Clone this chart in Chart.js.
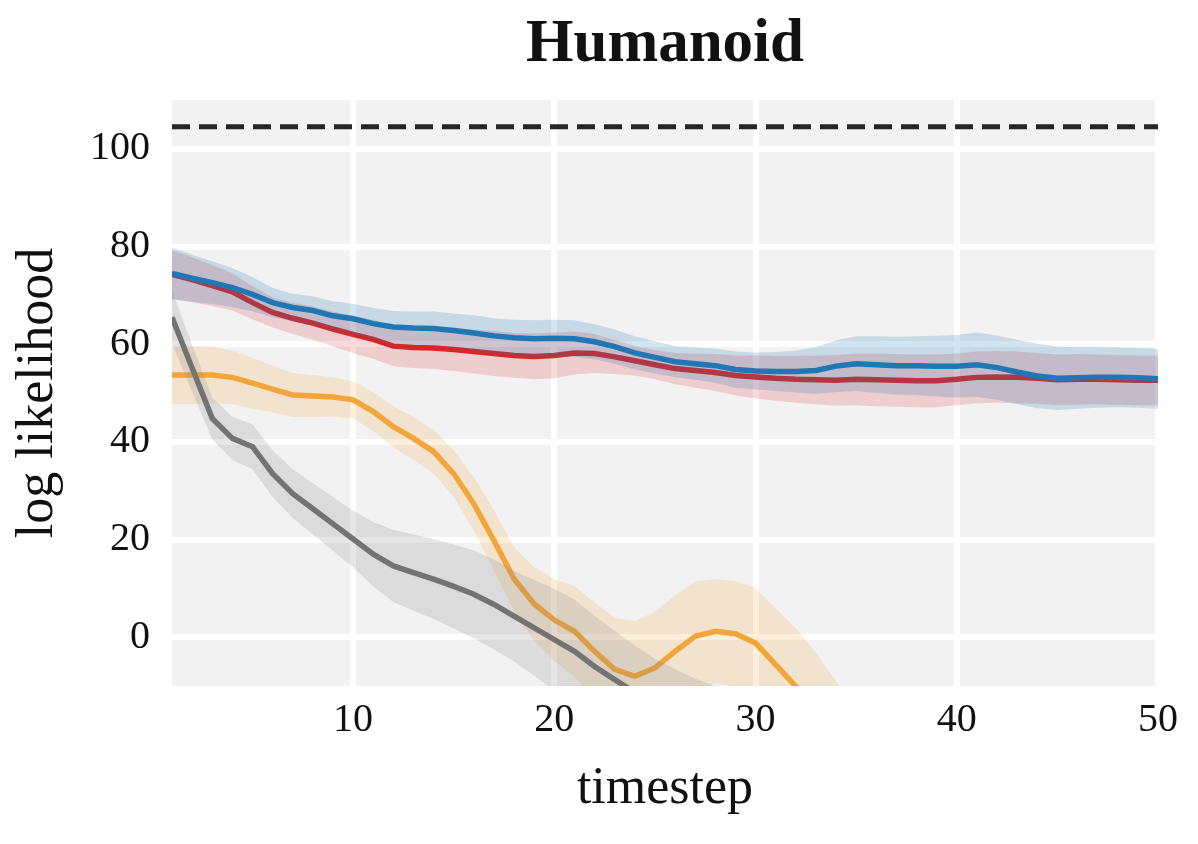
<!DOCTYPE html>
<html>
<head>
<meta charset="utf-8">
<script src="https://cdn.jsdelivr.net/npm/chart.js@4.4.1/dist/chart.umd.min.js"></script>
<style>
  html, body { margin: 0; padding: 0; background: #fff; }
  #wrap { width: 1198px; height: 844px; position: relative; }
</style>
</head>
<body>
<div id="wrap"><canvas id="humanoidChart"></canvas></div>
<script>
const timesteps = [1,2,3,4,5,6,7,8,9,10,11,12,13,14,15,16,17,18,19,20,21,22,23,24,25,
  26,27,28,29,30,31,32,33,34,35,36,37,38,39,40,41,42,43,44,45,46,47,48,49,50];
const xTicks = [10, 20, 30, 40, 50];
const yTicks = [0, 20, 40, 60, 80, 100];
const refLevel = 104.5; // dashed line

const blueMean = [74.5,73.5,72.6,71.6,70.2,68.5,67.5,66.9,65.8,65.2,
  64.2,63.5,63.3,63.2,62.8,62.3,61.7,61.3,61.1,61.2,
  61.1,60.5,59.5,58.2,57.3,56.4,56.0,55.6,54.8,54.5,
  54.4,54.4,54.6,55.5,56.0,55.8,55.6,55.6,55.5,55.5,
  55.8,55.2,54.3,53.5,53.0,53.1,53.2,53.2,53.1,52.9];
const blueStd = [5.3,4.8,4.4,4.0,3.5,3.0,2.8,2.9,3.0,3.1,
  3.2,3.3,3.4,3.5,3.5,3.6,3.6,3.7,3.8,3.8,
  3.8,3.6,3.5,3.4,3.3,3.2,3.3,3.5,3.7,3.8,
  4.0,4.3,4.8,5.3,5.6,5.8,5.9,6.0,6.2,6.4,
  6.6,6.6,6.6,6.6,6.5,6.3,6.2,6.1,6.1,6.1];

const redMean = [74.3,73.2,72.0,70.7,68.5,66.5,65.3,64.3,63.1,62.0,
  61.0,59.6,59.3,59.2,58.9,58.5,58.1,57.7,57.5,57.7,
  58.2,58.1,57.4,56.6,55.8,55.0,54.6,54.2,53.6,53.3,
  53.0,52.8,52.7,52.6,52.8,52.7,52.6,52.5,52.5,52.8,
  53.2,53.3,53.2,53.0,52.7,52.8,52.8,52.7,52.6,52.6];
const redStd = [5.0,4.6,4.2,3.8,3.4,3.1,3.2,3.4,3.6,3.8,
  4.0,4.1,4.2,4.3,4.4,4.5,4.6,4.6,4.7,4.7,
  4.4,4.0,3.5,3.0,3.0,3.2,3.5,3.8,4.1,4.4,
  4.6,4.8,5.0,5.2,5.3,5.4,5.4,5.4,5.4,5.3,
  5.3,5.3,5.3,5.2,5.2,5.2,5.1,5.1,5.1,5.1];

const orangeMean = [53.7,53.7,53.7,53.2,52.0,50.8,49.6,49.4,49.2,48.6,
  46.2,43.1,40.7,38.0,33.5,27.3,19.8,11.9,6.8,3.5,
  1.2,-2.9,-6.6,-8.0,-6.3,-2.9,0.2,1.2,0.7,-1.2,
  -5.6,-10.1,-15.0,-20.0,-24.0,null,null,null,null,null,
  null,null,null,null,null,null,null,null,null,null];
const orangeStd = [6.0,6.0,5.8,5.5,5.2,4.8,4.5,4.3,4.0,3.8,
  4.0,4.2,4.4,4.5,4.8,5.5,6.2,6.6,7.5,8.4,
  9.3,10.0,10.6,11.3,11.5,11.5,11.2,10.7,10.8,11.2,
  11.5,12.0,11.8,11.0,10.0,null,null,null,null,null,
  null,null,null,null,null,null,null,null,null,null];

const grayMean = [65.5,55.1,44.8,40.7,39.0,33.5,29.4,26.3,23.2,20.1,
  17.0,14.6,13.2,11.9,10.4,8.8,6.7,4.3,1.9,-0.5,
  -2.9,-6.0,-8.7,-11.3,-14.0,-16.5,-19.0,-21.0,-23.0,-25.0,
  null,null,null,null,null,null,null,null,null,null,
  null,null,null,null,null,null,null,null,null,null];
const grayStd = [5.5,4.8,4.3,4.4,4.6,4.8,5.0,5.2,5.5,5.8,
  6.6,7.4,7.8,8.2,8.6,9.0,9.2,9.3,9.8,10.4,
  10.6,10.4,10.0,9.6,9.6,10.0,10.5,11.0,11.0,11.0,
  null,null,null,null,null,null,null,null,null,null,
  null,null,null,null,null,null,null,null,null,null];

function pts(vals) {
  return timesteps.map((t, i) => ({x: t, y: vals[i]}));
}

function shade(mean, sd, sign) {
  return mean.map((m, i) => (m === null ? null : m + sign * sd[i]));
}

// band = upper filled down to lower, then the mean line
function series(mean, sd, lineColor, bandColor, order) {
  return [
    { data: pts(shade(mean, sd, 1)), fill: '+1', backgroundColor: bandColor,
      borderWidth: 0, pointRadius: 0, order: order + 1 },
    { data: pts(shade(mean, sd, -1)), fill: false,
      borderWidth: 0, pointRadius: 0, order: order + 1 },
    { data: pts(mean), fill: false, borderColor: lineColor, borderWidth: 5.5,
      pointRadius: 0, order: order }
  ];
}

const plotBg = {
  id: 'plotBg',
  beforeDraw(chart) {
    const {ctx, chartArea: a} = chart;
    ctx.save();
    ctx.fillStyle = '#f2f2f2';
    ctx.fillRect(a.left, a.top, a.right - a.left, a.bottom - a.top);
    ctx.restore();
  },
  afterDraw(chart) {
    const {ctx, chartArea: a} = chart;
    ctx.save();
    ctx.font = "bold 61px 'Liberation Serif', serif";
    ctx.fillStyle = '#111';
    ctx.textAlign = 'center';
    ctx.textBaseline = 'alphabetic';
    ctx.fillText('Humanoid', (a.left + a.right) / 2, 61);
    ctx.restore();
  }
};

Chart.defaults.font.family = "'Liberation Serif', serif";
Chart.defaults.color = '#111';

const datasets = [
  ...series(orangeMean, orangeStd, '#f2a53a', 'rgba(245,170,70,0.2)', 7),
  ...series(grayMean, grayStd, '#737373', 'rgba(128,128,128,0.2)', 5),
  ...series(redMean, redStd, '#d62728', 'rgba(214,39,40,0.18)', 3),
  ...series(blueMean, blueStd, '#1f77b4', 'rgba(31,119,180,0.2)', 1),
  { data: pts(timesteps.map(() => refLevel)), fill: false, borderColor: '#262626',
    borderWidth: 5, borderDash: [18, 9], pointRadius: 0, order: 0 }
];

const ctx = document.getElementById('humanoidChart').getContext('2d');
const chart = new Chart(ctx, {
  type: 'line',
  data: { datasets: datasets },
  options: {
    responsive: true,
    maintainAspectRatio: false,
    animation: false,
    layout: { padding: { top: 100, right: 40, bottom: 0, left: 0 } },
    elements: { line: { tension: 0 } },
    plugins: { legend: { display: false }, tooltip: { enabled: false } },
    scales: {
      x: {
        type: 'linear', min: 1, max: 50,
        afterFit(s) { s.height = 158; },
        afterBuildTicks(s) { s.ticks = xTicks.map(v => ({value: v})); },
        ticks: { font: { size: 40 }, padding: 10, maxRotation: 0 },
        grid: { color: '#ffffff', lineWidth: 6, drawTicks: false },
        border: { display: false },
        title: { display: true, text: 'timestep', font: { size: 52 },
                 padding: { top: 0, bottom: 23 } }
      },
      y: {
        min: -10, max: 110,
        afterFit(s) { s.width = 172; },
        afterBuildTicks(s) { s.ticks = yTicks.map(v => ({value: v})); },
        ticks: { font: { size: 40 }, padding: 22 },
        grid: { color: '#ffffff', lineWidth: 6, drawTicks: false },
        border: { display: false },
        title: { display: true, text: 'log likelihood', font: { size: 52 },
                 padding: { top: 7, bottom: 0 } }
      }
    }
  },
  plugins: [plotBg]
});
</script>
</body>
</html>
